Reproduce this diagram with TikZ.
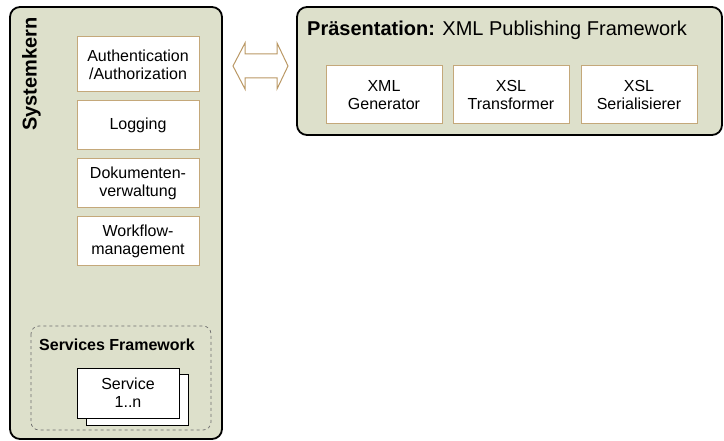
\documentclass[tikz,border=0pt]{standalone}
\usepackage{fontspec}
\setmainfont{Liberation Sans}
\definecolor{panel}{RGB}{221,224,203}
\definecolor{tan}{RGB}{196,168,122}
\definecolor{arrowtan}{RGB}{186,152,100}
\definecolor{dashgray}{RGB}{110,110,110}
\begin{document}
\begin{tikzpicture}[x=1pt,y=-1pt,
  panelbox/.style={draw=black,line width=1.8pt,fill=panel,rounded corners=10pt},
  compbox/.style={draw=tan,line width=1pt,fill=white,align=center,inner sep=0pt,
     font=\fontsize{16}{18}\selectfont},
  servbox/.style={draw=black,line width=0.8pt,fill=white,align=center,inner sep=0pt,
     font=\fontsize{16}{18}\selectfont},
  frame/.style={draw=dashgray,dashed,line width=0.7pt,rounded corners=8pt}]
\useasboundingbox (0,0) rectangle (724,441);
% Systemkern panel
\path[panelbox] (10,7) rectangle (222,439);
\node[rotate=90,anchor=east,inner sep=0pt,font=\fontsize{20}{22}\selectfont\bfseries] (sk) at (31.5,17) {Systemkern};
\node[compbox,minimum width=122pt,minimum height=55pt] (auth) at (138,64.5) {Authentication\\/Authorization};
\node[compbox,minimum width=122pt,minimum height=49pt] (log) at (138,125.5) {Logging};
\node[compbox,minimum width=122pt,minimum height=49pt] (dok) at (138,183.5) {Dokumenten-\\verwaltung};
\node[compbox,minimum width=122pt,minimum height=49pt] (wf) at (138,241.5) {Workflow-\\management};
% Services framework
\path[frame] (31,326) rectangle (211,430);
\node[anchor=base west,inner sep=0pt,font=\fontsize{16}{18}\selectfont\bfseries] (sf) at (39,350) {Services Framework};
\node[servbox,minimum width=102pt,minimum height=51pt] (sb) at (137,399.5) {};
\node[servbox,minimum width=102pt,minimum height=50pt] (sv) at (128,393) {Service\\1..n};
% Double arrow
\draw[draw=arrowtan,line width=1pt,fill=white,line join=miter]
  (233,66) -- (245,43) -- (245,54) -- (277,54) -- (277,43) -- (288,66)
  -- (277,89) -- (277,78) -- (245,78) -- (245,89) -- cycle;
\coordinate (al) at (233,66);
\coordinate (ar) at (288,66);
% Praesentation panel
\path[panelbox] (297,7) rectangle (722,135);
\node[anchor=base west,inner sep=0pt,font=\fontsize{20}{22}\selectfont] (pt) at (307,36) {\textbf{Präsentation:} XML Publishing Framework};
\node[compbox,minimum width=116pt,minimum height=58pt] (gen) at (384,95) {XML\\Generator};
\node[compbox,minimum width=116pt,minimum height=58pt] (trans) at (511,95) {XSL\\Transformer};
\node[compbox,minimum width=116pt,minimum height=58pt] (ser) at (639,95) {XSL\\Serialisierer};
\end{tikzpicture}
\end{document}
